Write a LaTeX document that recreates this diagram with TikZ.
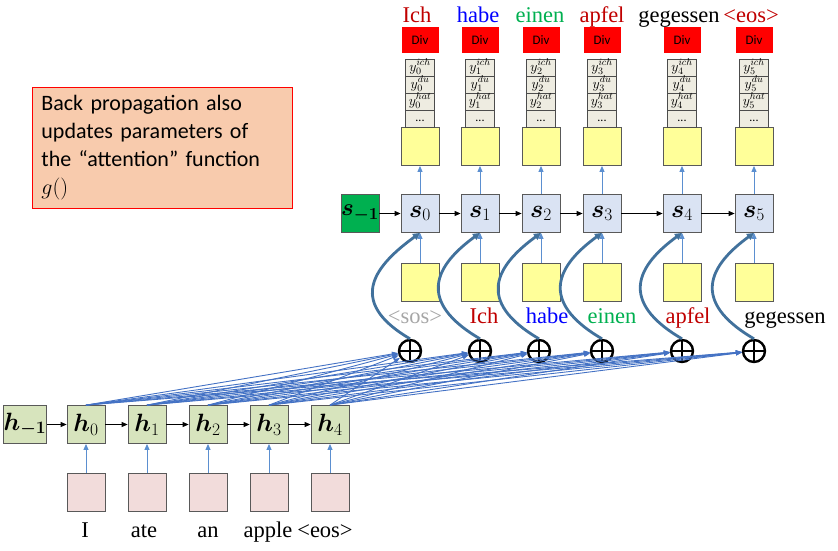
\RequirePackage{fix-cm}
\documentclass[tikz,border=0pt]{standalone}
\usepackage{fontspec}
\setmainfont{Liberation Serif}
\newfontfamily\calibri{Carlito}
\usepackage{bm}
\usetikzlibrary{arrows.meta}
\definecolor{sfill}{HTML}{DAE3F3}
\definecolor{hfill}{HTML}{D7E4BD}
\definecolor{pinkfill}{HTML}{F2DCDB}
\definecolor{yel}{HTML}{FFFF99}
\definecolor{stackfill}{HTML}{EEECE1}
\definecolor{sgreen}{HTML}{00B050}
\definecolor{attn}{HTML}{4472C4}
\definecolor{thinblue}{HTML}{5B8FD0}
\definecolor{curveblue}{HTML}{41719C}
\definecolor{dred}{HTML}{C00000}
\definecolor{boxfill}{HTML}{F8CBAD}
\definecolor{sosgray}{HTML}{A6A6A6}
\begin{document}
\begin{tikzpicture}[x=1pt,y=-1pt,
  cell/.style={draw=black!65, line width=0.8pt, minimum width=38pt, minimum height=38pt, inner sep=0pt},
  sbox/.style={cell, fill=sfill, font=\fontsize{25}{25}\selectfont},
  hbox/.style={cell, fill=hfill, font=\fontsize{25}{25}\selectfont},
  gbox/.style={cell, fill=sgreen, font=\fontsize{24}{24}\selectfont},
  ybox/.style={cell, fill=yel},
  pbox/.style={cell, fill=pinkfill},
  divbox/.style={fill=red, minimum width=37pt, minimum height=26pt, inner sep=0pt, font=\calibri\fontsize{13}{13}\selectfont},
  stk/.style={draw=black!70, line width=0.8pt, fill=stackfill, minimum width=29pt, minimum height=17pt, inner sep=0pt},
  stklab/.style={anchor=base, inner sep=0pt, font=\fontsize{14}{14}\selectfont},
  word/.style={anchor=base, inner sep=0pt, font=\fontsize{22.5}{22.5}\selectfont},
  plus/.style={circle, draw=black, line width=2.4pt, minimum size=22pt, inner sep=0pt,
    path picture={\draw[line width=2.4pt] (path picture bounding box.north) -- (path picture bounding box.south)
      (path picture bounding box.west) -- (path picture bounding box.east);}},
  blk/.style={draw=black, line width=0.9pt, -{Triangle[length=6pt,width=5pt]}},
  thinarr/.style={draw=thinblue, line width=1pt, -{Triangle[length=6pt,width=5pt]}},
  attnline/.style={draw=attn, line width=0.9pt, -{Triangle[length=6pt,width=4.5pt]}},
  curvearr/.style={draw=curveblue, line width=2.8pt, -{Triangle[length=7pt,width=7pt]}}
]
\useasboundingbox (0,0) rectangle (838,550);

% note box
\node[draw=red, fill=boxfill, line width=0.8pt, anchor=north west, minimum width=260pt,
  minimum height=121pt, text width=242pt, inner xsep=9pt, inner ysep=0pt, align=left,
  font=\calibri\fontsize{22}{28}\selectfont] (note) at (32,87)
  {Back propagation also\\updates parameters of\\the “attention” function\\$g()$};

% decoder columns
\node[gbox] (sm1) at (360,213.5) {$\bm{s_{-1}}$};
\foreach \i/\x/\px in {0/420/410,1/480/480,2/541/539,3/602/602,4/682/682,5/754/754}{
  \node[sbox] (s\i) at (\x,213.5) {$\bm{s}_\i$};
  \node[ybox] (yu\i) at (\x,146.5) {};
  \node[ybox] (yl\i) at (\x,282) {};
  \node[divbox] (d\i) at (\x,40) {Div};
  \node[stk] (ca\i) at (\x,67.5) {};
  \node[stk] (cb\i) at (\x,84.5) {};
  \node[stk] (cc\i) at (\x,101.5) {};
  \node[stk] (cd\i) at (\x,118.5) {};
  \node[stklab] (la\i) at (\x,71) {$y_\i^{ich}$};
  \node[stklab] (lb\i) at (\x,88) {$y_\i^{du}$};
  \node[stklab] (lc\i) at (\x,105) {$y_\i^{hat}$};
  \node[stklab, font=\calibri\fontsize{12}{12}\selectfont] (ld\i) at (\x,121) {...};
  \node[plus] (p\i) at (\px,351) {};
  \draw[thinarr] (s\i) -- (yu\i);
  \draw[thinarr] (yl\i) -- (s\i);
}
\draw[blk] (sm1) -- (s0);
\foreach \i/\j in {0/1,1/2,2/3,3/4,4/5}{\draw[blk] (s\i) -- (s\j);}

% top words
\node[word, text=dred] (t0) at (417,22) {Ich};
\node[word, text=blue] (t1) at (478,22) {habe};
\node[word, text=sgreen] (t2) at (540,22) {einen};
\node[word, text=dred] (t3) at (602,22) {apfel};
\node[word, text=black] (t4) at (679,22) {gegessen};
\node[word, text=dred] (t5) at (751,22) {<eos>};

% decoder input words
\node[word, text=sosgray] (w0) at (415,323) {<sos>};
\node[word, text=dred] (w1) at (484,323) {Ich};
\node[word, text=blue] (w2) at (547,323) {habe};
\node[word, text=sgreen] (w3) at (612,323) {einen};
\node[word, text=dred] (w4) at (688,323) {apfel};
\node[word, text=black] (w5) at (785,323) {gegessen};

% encoder
\node[hbox] (hm1) at (25,424.5) {$\bm{h_{-1}}$};
\foreach \i/\x in {0/86,1/147,2/208,3/269,4/330}{
  \node[hbox] (h\i) at (\x,424.5) {$\bm{h}_\i$};
  \node[pbox] (e\i) at (\x,492.5) {};
  \draw[thinarr] (e\i) -- (h\i);
}
\draw[blk] (hm1) -- (h0);
\foreach \i/\j in {0/1,1/2,2/3,3/4}{\draw[blk] (h\i) -- (h\j);}

\node[word] (x0) at (85,537) {I};
\node[word] (x1) at (144,537) {ate};
\node[word] (x2) at (208,537) {an};
\node[word] (x3) at (268,537) {apple};
\node[word] (x4) at (325,537) {<eos>};

% attention lines
\foreach \i in {0,...,4}{\foreach \j in {0,...,5}{\draw[attnline] (h\i.north) -- (p\j);}}

% curved arrows
\foreach \i in {0,...,5}{
  \draw[curvearr] (p\i.north) .. controls +(-65,-38) and +(-44,32) .. (s\i.south);
}
\end{tikzpicture}
\end{document}
